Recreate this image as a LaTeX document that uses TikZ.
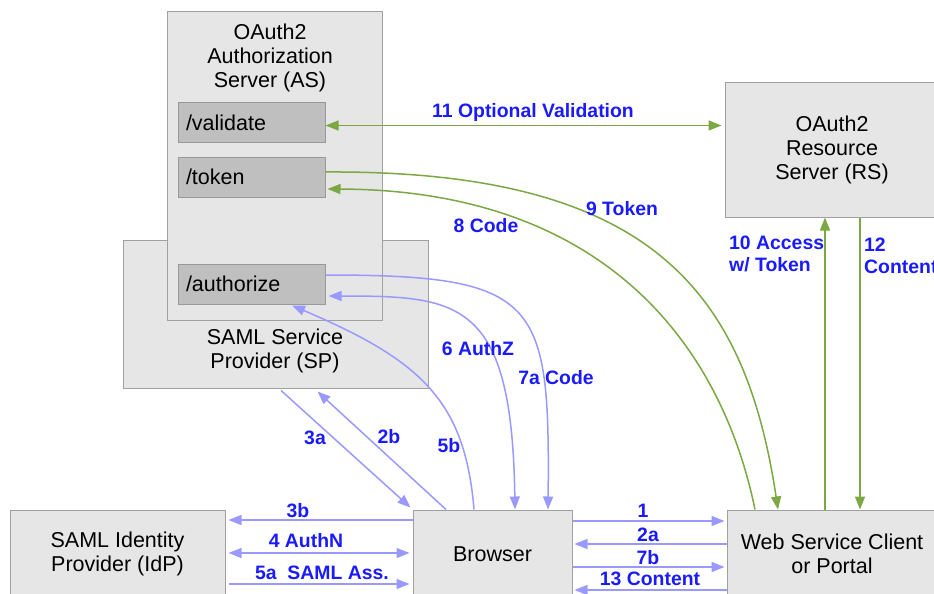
\documentclass[tikz,border=0pt]{standalone}
\usepackage{fontspec}
\setmainfont{Liberation Sans}
\usetikzlibrary{arrows.meta}
\definecolor{boxfill}{HTML}{E6E6E6}
\definecolor{boxline}{HTML}{A0A0A0}
\definecolor{innerfill}{HTML}{BFBFBF}
\definecolor{innerline}{HTML}{999999}
\definecolor{grn}{HTML}{7BA843}
\definecolor{blu}{HTML}{9999FF}
\definecolor{lbl}{HTML}{1A1AFF}
\begin{document}
\begin{tikzpicture}[x=1pt,y=-1pt,
  box/.style={draw=boxline,fill=boxfill,line width=1pt,inner sep=0pt,align=center,
    font=\fontsize{21.5}{24}\selectfont},
  boxtext/.style={inner sep=0pt,align=center,font=\fontsize{21.5}{24}\selectfont},
  ep/.style={draw=innerline,fill=innerfill,line width=1pt,minimum width=147pt,
    minimum height=40pt,inner sep=0pt,text width=131pt,align=left,
    font=\fontsize{21.5}{24}\selectfont},
  lab/.style={text=lbl,inner sep=0pt,font=\fontsize{19.4}{22}\selectfont\bfseries},
  garrow/.style={draw=grn,line width=1.5pt,-{Triangle[length=13pt,width=10pt]}},
  barrow/.style={draw=blu,line width=1.5pt,-{Triangle[length=13pt,width=10pt]}},
  both/.style={{Triangle[length=13pt,width=10pt]}-{Triangle[length=13pt,width=10pt]}}
]
\useasboundingbox (0,0) rectangle (934,594);
% boxes
\node[box,minimum width=305pt,minimum height=148pt] (sp) at (275.5,314) {};
\node[boxtext] (sptext) at (275,351) {SAML Service\\Provider (SP)};
\node[box,minimum width=215pt,minimum height=308pt] (as) at (274.5,166) {};
\node[boxtext] (astext) at (270,58) {OAuth2\\Authorization\\Server (AS)};
\node[ep] (validate) at (251.5,122.5) {/validate};
\node[ep] (token) at (251.5,177) {/token};
\node[ep] (authorize) at (251.5,284) {/authorize};
\node[box,minimum width=214pt,minimum height=135pt] (rs) at (832,149.5) {OAuth2\\Resource\\Server (RS)};
\node[box,minimum width=215pt,minimum height=88pt] (idp) at (117.5,554) {SAML Identity\\Provider (IdP)};
\node[box,minimum width=159pt,minimum height=88pt] (browser) at (492.5,554) {Browser};
\node[box,minimum width=210pt,minimum height=88pt] (wsc) at (832,554) {Web Service Client\\or Portal};

\coordinate (v1) at ([yshift=-3pt]validate.east);
\coordinate (b3) at ([yshift=34pt]browser.west);

% green connectors
\draw[garrow,both,shorten >=3pt] (v1) -- (rs.west |- v1);
\draw[garrow] ([yshift=5pt]token.east) .. controls (650,170) and (745,290) .. ([xshift=-54pt]wsc.north);
\draw[garrow] ([xshift=-77pt]wsc.north) .. controls (720,340) and (600,190) .. ([xshift=2pt,yshift=-12pt]token.east);
\draw[garrow] ([xshift=-7pt]wsc.north) -- ([xshift=-7pt]rs.south);
\draw[garrow] ([xshift=28pt]rs.south) -- ([xshift=28pt]wsc.north);

% blue connectors
\draw[barrow] ([yshift=9pt]authorize.east) .. controls (540,275) and (550,300) .. ([xshift=55.5pt]browser.north);
\draw[barrow,both] ([xshift=22.5pt]browser.north) .. controls (512,300) and (460,296) .. ([xshift=3pt,yshift=-12pt]authorize.east);
\draw[barrow] ([xshift=-18.5pt]browser.north) .. controls (465,400) and (420,360) .. ([xshift=40.5pt,yshift=-1pt]authorize.south);
\draw[barrow] ([xshift=5.5pt,yshift=-2pt]sp.south) -- ([xshift=-2pt,yshift=2pt]browser.north west);
\draw[barrow] ([xshift=-46.5pt]browser.north) -- ([xshift=42pt,yshift=-3pt]sp.south);
\draw[barrow,shorten >=3pt] (b3) -- (idp.east |- b3);
\draw[barrow,both,shorten <=3pt,shorten >=3pt] ([yshift=1pt]idp.east) -- ([yshift=1pt]browser.west);
\draw[barrow,shorten <=3pt,shorten >=3pt] ([yshift=-30pt]idp.east) -- ([yshift=-30pt]browser.west);
\draw[barrow,shorten >=2pt] ([yshift=33pt]browser.east) -- ([yshift=33pt]wsc.west);
\draw[barrow,shorten >=2pt] ([yshift=10pt]wsc.west) -- ([yshift=10pt]browser.east);
\draw[barrow,shorten >=2pt] ([yshift=-13pt]browser.east) -- ([yshift=-13pt]wsc.west);
\draw[barrow,shorten >=2pt] ([yshift=-36pt]wsc.west) -- ([yshift=-36pt]browser.east);

% labels
\node[lab] (l11) at (533,112) {11 Optional Validation};
\node[lab] (l9) at (622,209) {9 Token};
\node[lab] (l8) at (486,226) {8 Code};
\node[lab,anchor=west,align=left] (l10) at (729,254) {10 Access\\w/ Token};
\node[lab,anchor=west,align=left] (l12) at (864,256) {12\\Content};
\node[lab] (l6) at (478,349) {6 AuthZ};
\node[lab] (l7a) at (556,378) {7a Code};
\node[lab] (l5b) at (449,446) {5b};
\node[lab] (l3a) at (315,438) {3a};
\node[lab] (l2b) at (389,437) {2b};
\node[lab] (l3b) at (298,511) {3b};
\node[lab] (l4) at (306,541) {4 AuthN};
\node[lab] (l5a) at (322,573) {5a\ \ SAML Ass.};
\node[lab] (l1) at (643,511) {1};
\node[lab] (l2a) at (648,535) {2a};
\node[lab] (l7b) at (648,558) {7b};
\node[lab] (l13) at (650,579) {13 Content};
\end{tikzpicture}
\end{document}
